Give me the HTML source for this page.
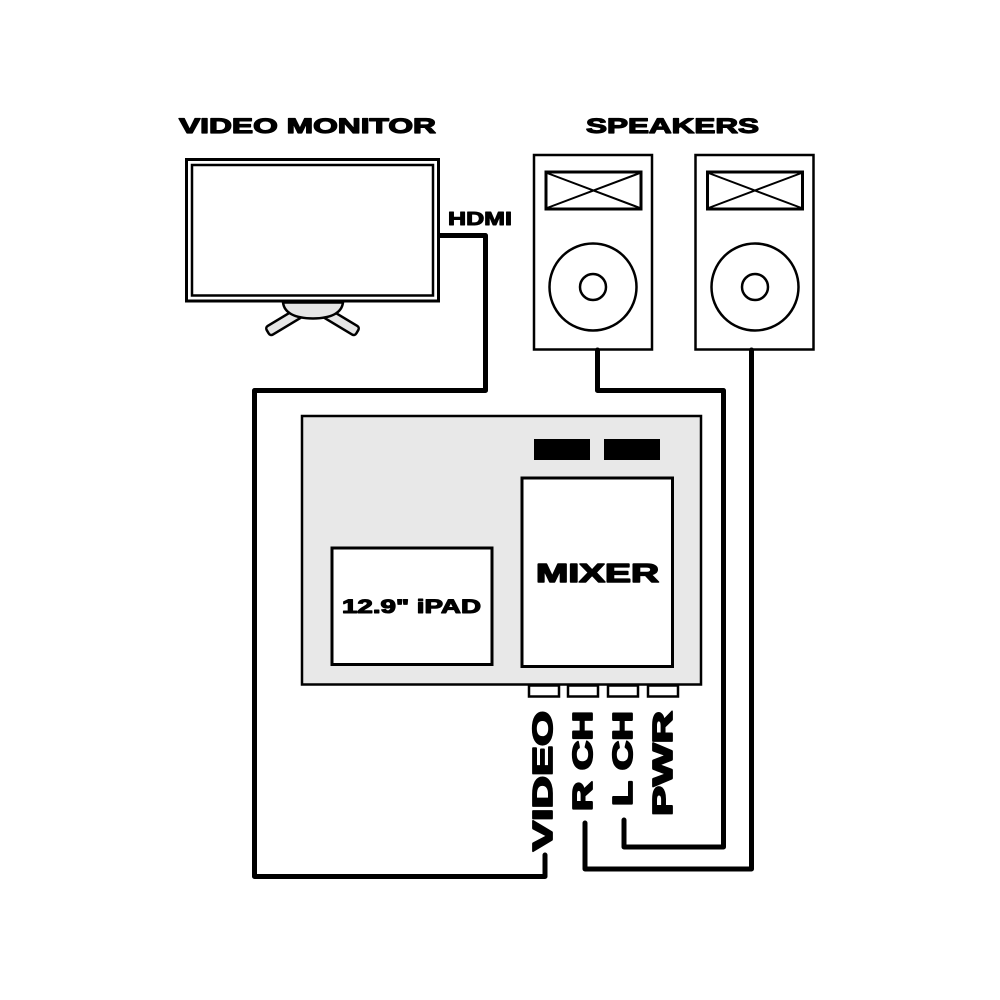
<!DOCTYPE html>
<html>
<head>
<meta charset="utf-8">
<style>
html,body{margin:0;padding:0;background:#fff;}
svg{display:block;}
text{font-family:"Liberation Sans",Arial,sans-serif;font-weight:bold;fill:#000;stroke:#000;stroke-linejoin:round;}
</style>
</head>
<body>
<svg width="1000" height="1000" viewBox="0 0 1000 1000" xmlns="http://www.w3.org/2000/svg">
  <rect x="0" y="0" width="1000" height="1000" fill="#fff"/>

  <!-- Titles -->
  <text x="179" y="133" font-size="21" stroke-width="1.2" textLength="257" lengthAdjust="spacingAndGlyphs">VIDEO MONITOR</text>
  <text x="586" y="133" font-size="21" stroke-width="1.2" textLength="173" lengthAdjust="spacingAndGlyphs">SPEAKERS</text>

  <!-- Monitor -->
  <rect x="186.5" y="159.5" width="252" height="141.5" fill="#fff" stroke="#000" stroke-width="3"/>
  <rect x="192" y="165" width="241" height="130.5" fill="#fff" stroke="#000" stroke-width="2.5"/>
  <!-- stand -->
  <g transform="translate(284,322) rotate(-31)">
    <rect x="-19" y="-5" width="38" height="10" rx="3" fill="#e6e6e6" stroke="#000" stroke-width="2.5"/>
  </g>
  <g transform="translate(341,322) rotate(31)">
    <rect x="-19" y="-5" width="38" height="10" rx="3" fill="#e6e6e6" stroke="#000" stroke-width="2.5"/>
  </g>
  <path d="M283,302.5 Q285,318 313,318.5 Q341,318 343,302.5 Z" fill="#e6e6e6" stroke="#000" stroke-width="2.5"/>

  <!-- HDMI label -->
  <text x="448" y="225" font-size="18" stroke-width="1" textLength="64" lengthAdjust="spacingAndGlyphs">HDMI</text>

  <!-- Speakers -->
  <g fill="#fff" stroke="#000">
    <rect x="534" y="155" width="118" height="194.5" stroke-width="2.5"/>
    <rect x="546" y="172" width="95" height="37" stroke-width="3"/>
    <line x1="547" y1="173" x2="640" y2="208" stroke-width="2"/>
    <line x1="547" y1="208" x2="640" y2="173" stroke-width="2"/>
    <circle cx="593" cy="287" r="43.5" stroke-width="2.5"/>
    <circle cx="593" cy="287" r="13" stroke-width="2.5"/>

    <rect x="695.5" y="155" width="118" height="194.5" stroke-width="2.5"/>
    <rect x="707.5" y="172" width="95" height="37" stroke-width="3"/>
    <line x1="708.5" y1="173" x2="801.5" y2="208" stroke-width="2"/>
    <line x1="708.5" y1="208" x2="801.5" y2="173" stroke-width="2"/>
    <circle cx="755" cy="287" r="43.5" stroke-width="2.5"/>
    <circle cx="755" cy="287" r="13" stroke-width="2.5"/>
  </g>

  <!-- Cables -->
  <g fill="none" stroke="#000" stroke-width="5" stroke-linejoin="round" stroke-linecap="round">
    <polyline points="440,235.5 485.5,235.5 485.5,390.5 254.5,390.5 254.5,876.5 545,876.5 545,855"/>
    <polyline points="597.5,350 597.5,390.5 723.5,390.5 723.5,847 624,847 624,820"/>
    <polyline points="751.5,350 751.5,869 585,869 585,823"/>
  </g>

  <!-- Mixer case -->
  <rect x="302" y="416" width="399" height="268.5" fill="#e8e8e8" stroke="#000" stroke-width="2.5"/>
  <rect x="534" y="439" width="56" height="21" fill="#000"/>
  <rect x="604" y="439" width="56" height="21" fill="#000"/>
  <rect x="522" y="478" width="150.5" height="188.5" fill="#fff" stroke="#000" stroke-width="3"/>
  <text x="536" y="582" font-size="26" stroke-width="1.5" textLength="123" lengthAdjust="spacingAndGlyphs">MIXER</text>
  <rect x="332" y="548" width="160" height="116.5" fill="#fff" stroke="#000" stroke-width="3"/>
  <text x="342" y="613" font-size="19" stroke-width="1.1" textLength="139" lengthAdjust="spacingAndGlyphs">12.9" iPAD</text>

  <!-- ports -->
  <g fill="#fff" stroke="#000" stroke-width="2.5">
    <rect x="529" y="685.5" width="30" height="11"/>
    <rect x="568" y="685.5" width="30" height="11"/>
    <rect x="608" y="685.5" width="30" height="11"/>
    <rect x="648" y="685.5" width="30" height="11"/>
  </g>

  <!-- vertical labels -->
  <text transform="translate(552,851) rotate(-90)" x="0" y="0" font-size="28" stroke-width="1.8" textLength="140" lengthAdjust="spacingAndGlyphs">VIDEO</text>
  <text transform="translate(592,811) rotate(-90)" x="0" y="0" font-size="28" stroke-width="1.8" textLength="100" lengthAdjust="spacingAndGlyphs">R CH</text>
  <text transform="translate(632,806) rotate(-90)" x="0" y="0" font-size="28" stroke-width="1.8" textLength="95" lengthAdjust="spacingAndGlyphs">L CH</text>
  <text transform="translate(672,816) rotate(-90)" x="0" y="0" font-size="28" stroke-width="1.8" textLength="105" lengthAdjust="spacingAndGlyphs">PWR</text>
</svg>
</body>
</html>
